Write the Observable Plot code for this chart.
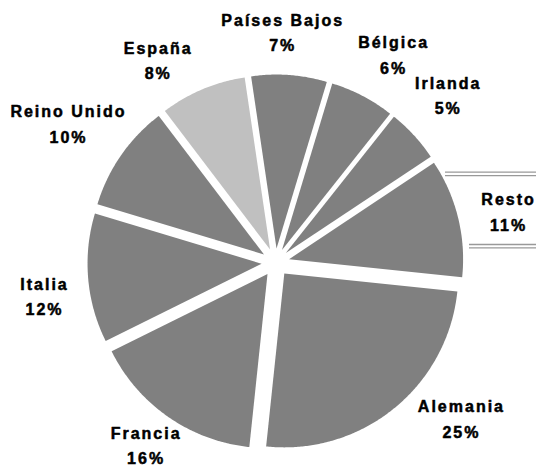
<!DOCTYPE html>
<html><head><meta charset="utf-8">
<script src="https://cdn.jsdelivr.net/npm/d3@7"></script>
<script src="https://cdn.jsdelivr.net/npm/@observablehq/plot@0.6"></script>
<style>html,body{margin:0;padding:0;background:#fff}</style>
</head><body><div id="chart"></div>
<script>
// ---- data ----
const countries = ["Alemania","Francia","Italia","Reino Unido","España","Países Bajos","Bélgica","Irlanda","Resto"];
const shares = [25,16,12,10,8,7,6,5,11];
const highlighted = ["España"];

// ---- layout / style ----
const W = 536, H = 467;
const cx = 275, cy = 262, R = 174, explode = 14, startDeg = 96;
const baseColor = "#808080", highlightColor = "#c0c0c0";
// label placement relative to slice bisector (angle shift in degrees, radius as multiple of R)
const labelShift = [-10.9, 0.4, -3.6, -1.1, -7.4, -2.4, 2.1, -1.4, 1.7];
const labelRadius = [1.397, 1.29, 1.342, 1.43, 1.34, 1.32, 1.37, 1.38, 1.37];
const rulesTop = [171.7, 175.2], rulesBottom = [244, 247.4];

const rad = d => d * Math.PI / 180;
const total = d3.sum(shares);
let acc = startDeg;
const slices = countries.map((name, i) => {
  const a0 = acc, a1 = acc + shares[i] / total * 360;
  acc = a1;
  return {name, value: shares[i], a0, a1, mid: (a0 + a1) / 2,
          color: highlighted.includes(name) ? highlightColor : baseColor, i};
});

const pts = [];
for (const s of slices) {
  const ox = cx + explode * Math.sin(rad(s.mid));
  const oy = cy - explode * Math.cos(rad(s.mid));
  pts.push({name: s.name, color: s.color, x: ox, y: oy});
  const n = Math.max(8, Math.ceil((s.a1 - s.a0) * 2));
  for (let k = 0; k <= n; k++) {
    const a = s.a0 + (s.a1 - s.a0) * k / n;
    pts.push({name: s.name, color: s.color, x: ox + R * Math.sin(rad(a)), y: oy - R * Math.cos(rad(a))});
  }
  pts.push({name: s.name, color: s.color, x: ox, y: oy});
}

const labels = slices.map(s => {
  const a = s.mid + labelShift[s.i];
  const rr = R * labelRadius[s.i];
  return {text: `${s.name}\n${s.value}%`, x: cx + rr * Math.sin(rad(a)), y: cy - rr * Math.cos(rad(a))};
});

const chart = Plot.plot({
  width: W, height: H,
  margin: 0,
  x: {domain: [0, W], range: [0, W], axis: null},
  y: {domain: [0, H], range: [0, H], axis: null},
  color: {type: "identity"},
  style: {background: "#fff", letterSpacing: "2px"},
  marks: [
    Plot.line(pts, {x: "x", y: "y", z: "name", fill: "color", stroke: null}),
    Plot.ruleY(rulesTop, {x1: 445, x2: W, stroke: "#999", strokeWidth: 1.3}),
    Plot.ruleY(rulesBottom, {x1: 469, x2: W, stroke: "#999", strokeWidth: 1.3}),
    Plot.text(labels, {x: "x", y: "y", text: "text", fontSize: 16, fontWeight: "bold",
      lineHeight: 1.6, dy: -2.5, fill: "#000", stroke: "#000", strokeWidth: 0.5,
      fontFamily: "Liberation Sans, Arial, sans-serif"})
  ]
});
document.getElementById("chart").appendChild(chart);
</script>
</body></html>
